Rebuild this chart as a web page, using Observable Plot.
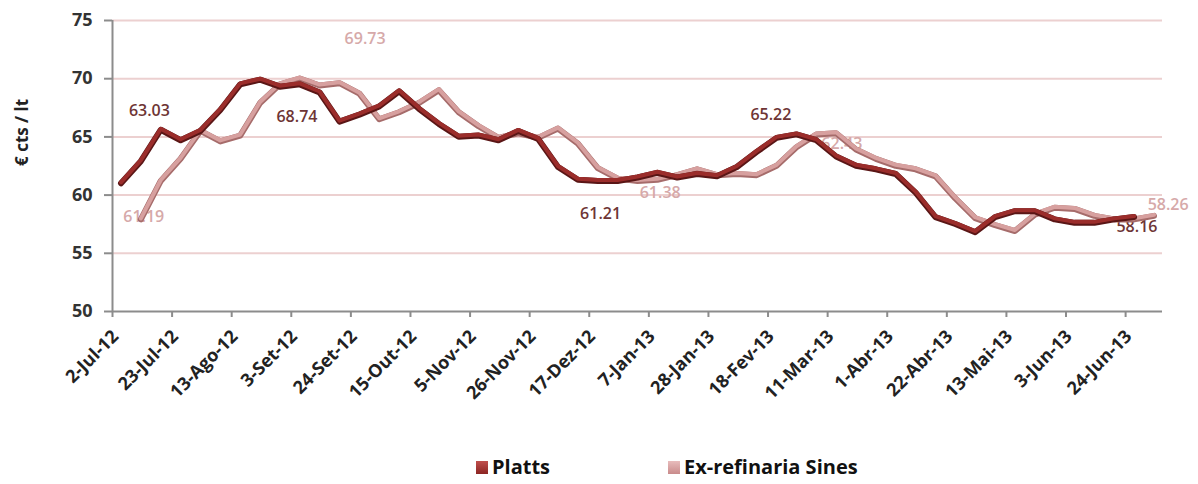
<!DOCTYPE html>
<html>
<head>
<meta charset="utf-8">
<script src="https://cdn.jsdelivr.net/npm/d3@7"></script>
<script src="https://cdn.jsdelivr.net/npm/@observablehq/plot@0.6"></script>
<style>
  body { margin: 0; background: #fff; font-family: "Open Sans", Lato, sans-serif; }
  #wrap { position: relative; width: 1198px; height: 484px; overflow: hidden; }
  #chart svg { display: block; }
  #chart g[aria-label="y-axis tick label"] { font-weight: bold; }
  .item { position: absolute; top: 454px; display: flex; align-items: center; font-weight: bold; font-size: 20px; color: #111; line-height: 26px; }
  .sw { width: 12px; height: 13px; margin-right: 4px; }
</style>
</head>
<body>
<div id="wrap">
  <div id="chart"></div>
  <div class="item" style="left:476px"><span class="sw" style="background:linear-gradient(#c0504d,#8c2523)"></span>Platts</div>
  <div class="item" style="left:668px"><span class="sw" style="background:linear-gradient(#e8bcbc,#c98b8b)"></span>Ex-refinaria Sines</div>
</div>
<script>
// ---- data ----
const weekDates = [
  "2012-07-05","2012-07-12","2012-07-19","2012-07-26","2012-08-02","2012-08-09","2012-08-16","2012-08-23","2012-08-30",
  "2012-09-06","2012-09-13","2012-09-20","2012-09-27","2012-10-04","2012-10-11","2012-10-18","2012-10-25",
  "2012-11-01","2012-11-08","2012-11-15","2012-11-22","2012-11-29","2012-12-06","2012-12-13","2012-12-20","2012-12-27",
  "2013-01-03","2013-01-10","2013-01-17","2013-01-24","2013-01-31","2013-02-07","2013-02-14","2013-02-21","2013-02-28",
  "2013-03-07","2013-03-14","2013-03-21","2013-03-28","2013-04-04","2013-04-11","2013-04-18","2013-04-25",
  "2013-05-02","2013-05-09","2013-05-16","2013-05-23","2013-05-30","2013-06-06","2013-06-13","2013-06-20","2013-06-27","2013-07-04"
];
// Platts: weeks 0..51
const plattsValues = [
  61.1, 63.0, 65.7, 64.8, 65.6, 67.4, 69.6, 70.0, 69.4, 69.6,
  68.9, 66.4, 67.0, 67.7, 69.0, 67.5, 66.2, 65.1, 65.2, 64.8,
  65.6, 64.9, 62.5, 61.4, 61.3, 61.3, 61.6, 62.0, 61.6, 61.9,
  61.7, 62.5, 63.8, 65.0, 65.3, 64.8, 63.4, 62.6, 62.3, 61.9,
  60.3, 58.2, 57.6, 56.9, 58.2, 58.7, 58.7, 58.0, 57.7, 57.7,
  58.0, 58.2
];
// Ex-refinaria Sines: weeks 1..52
const sinesValues = [
  58.0, 61.3, 63.2, 65.6, 64.7, 65.2, 68.0, 69.6, 70.1, 69.5,
  69.7, 68.8, 66.6, 67.2, 68.0, 69.1, 67.2, 66.0, 65.0, 65.4,
  65.0, 65.8, 64.5, 62.4, 61.5, 61.3, 61.4, 61.8, 62.3, 61.8,
  61.9, 61.8, 62.6, 64.2, 65.3, 65.4, 64.0, 63.2, 62.6, 62.3,
  61.7, 59.8, 58.1, 57.5, 57.0, 58.4, 59.0, 58.9, 58.3, 58.0,
  58.0, 58.3
];
const seriesNames = ["Platts", "Ex-refinaria Sines"];
const tickDates = [
  "2012-07-02","2012-07-23","2012-08-13","2012-09-03","2012-09-24","2012-10-15","2012-11-05","2012-11-26","2012-12-17",
  "2013-01-07","2013-01-28","2013-02-18","2013-03-11","2013-04-01","2013-04-22","2013-05-13","2013-06-03","2013-06-24"
];
const tickLabels = [
  "2-Jul-12","23-Jul-12","13-Ago-12","3-Set-12","24-Set-12","15-Out-12","5-Nov-12","26-Nov-12","17-Dez-12",
  "7-Jan-13","28-Jan-13","18-Fev-13","11-Mar-13","1-Abr-13","22-Abr-13","13-Mai-13","3-Jun-13","24-Jun-13"
];
const yTicks = [50, 55, 60, 65, 70, 75];
const labelTexts  = ["63.03","61.19","68.74","69.73","61.21","61.38","65.22","62.43","58.26","58.16"];
const labelDates  = ["2012-07-15","2012-07-13","2012-09-05","2012-09-29","2012-12-21","2013-01-11","2013-02-19","2013-03-16","2013-07-09","2013-06-28"];
const labelValues = [67.2, 58.1, 66.7, 73.4, 58.4, 60.2, 66.9, 64.4, 59.2, 57.3];
const labelSeries = [0, 1, 0, 1, 0, 1, 0, 1, 1, 0];

// ---- build ----
const P = d3.utcParse("%Y-%m-%d");
const platts = plattsValues.map((v, i) => ({date: P(weekDates[i]), value: v}));
const sines = sinesValues.map((v, i) => ({date: P(weekDates[i + 1]), value: v}));
const ticks = tickDates.map(P);
const tickRows = ticks.map((d, i) => ({date: d, label: tickLabels[i]}));
const labels = labelTexts.map((t, i) => ({text: t, date: P(labelDates[i]), value: labelValues[i], s: labelSeries[i]}));

const C = {
  plattsMain: "#9b2d2b", plattsShade: "#5a1616",
  sinesMain: "#d7a09f", sinesShade: "#a66c6b",
  plattsText: "#6e3535", sinesText: "#d6a9a9",
  grid: "#ecd0d0", axis: "#8c8c8c"
};

const chart = Plot.plot({
  width: 1198,
  height: 440,
  marginLeft: 112,
  marginRight: 36,
  marginTop: 20,
  marginBottom: 129,
  style: {fontFamily: "'Open Sans', Lato, sans-serif", background: "#fff", color: "#333"},
  x: {type: "utc", domain: [P("2012-07-02"), P("2013-07-07")]},
  y: {domain: [50, 75]},
  marks: [
    Plot.ruleY(yTicks.filter(d => d > 50), {stroke: C.grid, strokeWidth: 2}),
    Plot.text(labels, {x: "date", y: "value", text: "text", fontSize: 16, fontWeight: 600,
      fill: d => d.s === 0 ? C.plattsText : C.sinesText}),
    Plot.line(sines, {x: "date", y: "value", stroke: C.sinesShade, strokeWidth: 6, dy: 1}),
    Plot.line(sines, {x: "date", y: "value", stroke: C.sinesMain, strokeWidth: 4}),
    Plot.line(platts, {x: "date", y: "value", stroke: C.plattsShade, strokeWidth: 6, dy: 1}),
    Plot.line(platts, {x: "date", y: "value", stroke: C.plattsMain, strokeWidth: 4}),
    Plot.ruleY([50], {stroke: C.axis, strokeWidth: 2}),
    Plot.ruleX([P("2012-07-02")], {stroke: C.axis, strokeWidth: 2}),
    Plot.axisY({ticks: yTicks, tickSize: 8, tickPadding: 12, fontSize: 18, fill: "#333", stroke: C.axis, label: null}),
    Plot.axisX({ticks: ticks, tickSize: 6, stroke: C.axis, text: null, label: null}),
    Plot.text(tickRows, {x: "date", frameAnchor: "bottom", text: "label", rotate: -45, textAnchor: "end",
      lineAnchor: "middle", dx: 3, dy: 22, fontSize: 18, fontWeight: "bold", fill: "#222"}),
    Plot.text(["€ cts / lt"], {frameAnchor: "left", dx: -90, rotate: -90, fontSize: 17, fontWeight: "bold", fill: "#222"})
  ]
});
chart.querySelectorAll('g[aria-label="y-axis tick"] path, g[aria-label="x-axis tick"] path').forEach(p => p.setAttribute("stroke-width", 2));
document.getElementById("chart").appendChild(chart);
</script>
</body>
</html>
